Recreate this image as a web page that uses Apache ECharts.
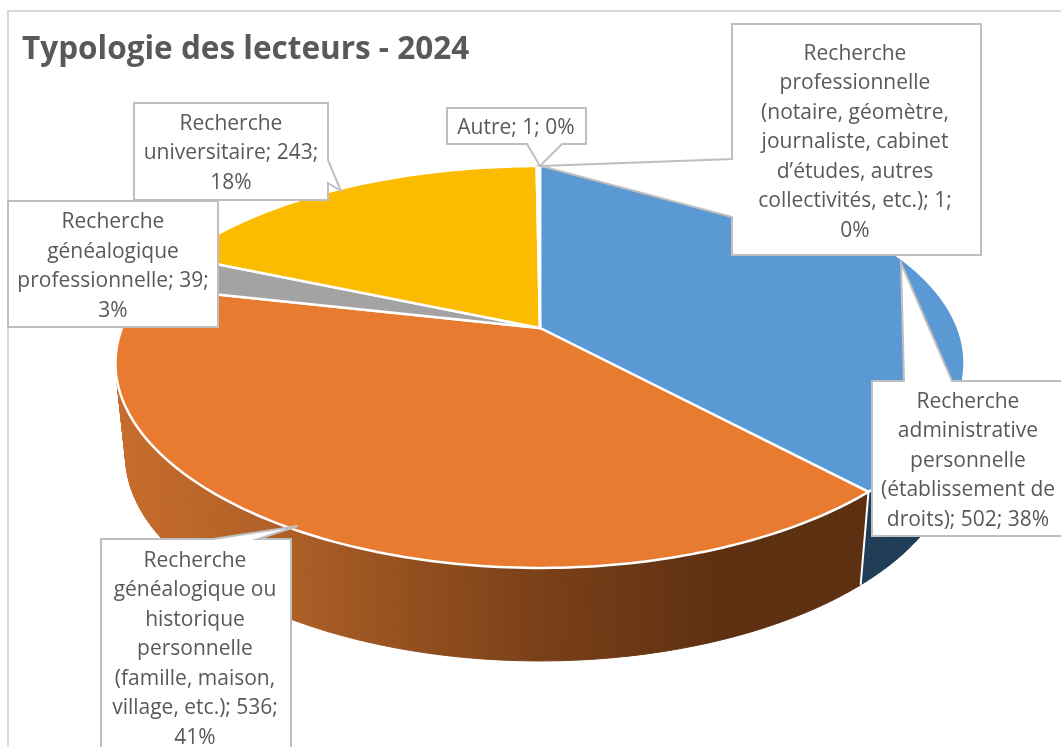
<!DOCTYPE html>
<html>
<head>
<meta charset="utf-8">
<title>Typologie des lecteurs - 2024</title>
<script src="https://cdn.jsdelivr.net/npm/echarts@6/dist/echarts.min.js"></script>
<style>
html, body { margin: 0; padding: 0; background: #fff; overflow: hidden; }
#main { width: 1061px; height: 747px; }
</style>
</head>
<body>
<div id="main"></div>
<script>
// donnees, dans le sens horaire depuis midi
var categories = [
	'Recherche administrative personnelle (établissement de droits)',
	'Recherche généalogique ou historique personnelle (famille, maison, village, etc.)',
	'Recherche généalogique professionnelle',
	'Recherche universitaire',
	'Autre',
	'Recherche professionnelle (notaire, géomètre, journaliste, cabinet d’études, autres collectivités, etc.)'
];
var values = [502, 536, 39, 243, 1, 1];
var labelTexts = [
	'Recherche\nadministrative\npersonnelle\n(établissement de\ndroits); 502; 38%',
	'Recherche\ngénéalogique ou\nhistorique\npersonnelle\n(famille, maison,\nvillage, etc.); 536;\n41%',
	'Recherche\ngénéalogique\nprofessionnelle; 39;\n3%',
	'Recherche\nuniversitaire; 243;\n18%',
	'Autre; 1; 0%',
	'Recherche\nprofessionnelle\n(notaire, géomètre,\njournaliste, cabinet\nd’études, autres\ncollectivités, etc.); 1;\n0%'
];

// couleurs
var topColors = ['#5b99d4', '#e97b30', '#a3a3a3', '#fbbc00', '#5b99d4', '#e97b30'];
var wallColors = ['#203d57', null, '#555555', '#7f6000', '#203d57', '#5e3012'];

// vue en perspective : apex, force de la perspective, rayons du dessus et du dessous
var view = {
	cx: 540, k: 0.194, kx: 0.175,
	top: { y: 328, a: 193.4, b: 418 },
	bottom: { y: 421, a: 193.4, b: 408 }
};

// cadres des etiquettes : [x, y, largeur, hauteur], pointe, base du pointeur, centre du texte
var callouts = [
	{ box: [872, 381, 192, 155], tip: [901, 263], side: 'top', base: [904, 952], text: [968, 461] },
	{ box: [101, 539, 190, 218], tip: [298, 526], side: 'top', base: [213, 258], text: [195, 649.5] },
	{ box: [8, 201, 210, 126], text: [113, 266.5] },
	{ box: [134, 103, 194, 97], tip: [341, 191], side: 'right', base: [160, 183], text: [231, 153.5] },
	{ box: [447, 108, 139, 36], tip: [540, 166], side: 'bottom', base: [527, 562], text: [516, 128] },
	{ box: [732, 24, 249, 231], tip: [541, 166], side: 'left', base: [159, 217], text: [855, 142.5] }
];

var total = 0;
for (var i = 0; i < values.length; i++) {
	total += values[i];
}

function startAngle(idx) {
	var s = 0;
	for (var i = 0; i < idx; i++) {
		s += values[i];
	}
	return s / total * Math.PI * 2;
}

function project(theta, face) {
	var c = Math.cos(theta);
	return [
		view.cx + face.b * Math.sin(theta) / (1 + view.kx * c),
		face.y - face.a * c / (1 + view.k * c)
	];
}

function rimPoints(a0, a1, face) {
	var pts = [];
	var n = Math.max(2, Math.ceil((a1 - a0) / (Math.PI / 180)));
	for (var i = 0; i <= n; i++) {
		pts.push(project(a0 + (a1 - a0) * i / n, face));
	}
	return pts;
}

var wallGradient = new echarts.graphic.LinearGradient(118, 0, 720, 0, [
	{ offset: 0, color: '#c76c2c' },
	{ offset: 0.28, color: '#ae5f27' },
	{ offset: 0.47, color: '#95511f' },
	{ offset: 0.7, color: '#7a4018' },
	{ offset: 1, color: '#5e3012' }
], true);

function renderWall(params, api) {
	var idx = params.dataIndex;
	var a0 = startAngle(idx);
	var a1 = a0 + api.value(0) / total * Math.PI * 2;
	var topRim = rimPoints(a0, a1, view.top);
	var bottomRim = rimPoints(a0, a1, view.bottom);
	var fill = wallColors[idx] || wallGradient;
	var children = [];
	// une facette par pas d'angle, sinon le bord gauche se replie et laisse un trou
	for (var i = 0; i < topRim.length - 1; i++) {
		children.push({
			type: 'polygon',
			shape: { points: [topRim[i], topRim[i + 1], bottomRim[i + 1], bottomRim[i]] },
			style: { fill: fill, stroke: fill, lineWidth: 1 }
		});
	}
	// separation blanche entre les deux parois
	if (idx == 0) {
		var last = topRim.length - 1;
		children.push({
			type: 'line',
			shape: {
				x1: topRim[last][0], y1: topRim[last][1],
				x2: bottomRim[last][0], y2: bottomRim[last][1]
			},
			style: { stroke: '#fff', lineWidth: 2 },
			z2: 10
		});
	}
	return { type: 'group', children: children };
}

function renderTop(params, api) {
	var idx = params.dataIndex;
	var a0 = startAngle(idx);
	var a1 = a0 + api.value(0) / total * Math.PI * 2;
	var pts = [[view.cx, view.top.y]].concat(rimPoints(a0, a1, view.top));
	return {
		type: 'polygon',
		shape: { points: pts },
		style: { fill: topColors[idx], stroke: '#fff', lineWidth: 2.5, lineJoin: 'round' }
	};
}

function calloutShape(c) {
	var x = c.box[0], y = c.box[1], w = c.box[2], h = c.box[3];
	var pts = [[x, y]];
	if (c.side == 'top') pts.push([c.base[0], y], c.tip, [c.base[1], y]);
	pts.push([x + w, y]);
	if (c.side == 'right') pts.push([x + w, c.base[0]], c.tip, [x + w, c.base[1]]);
	pts.push([x + w, y + h]);
	if (c.side == 'bottom') pts.push([c.base[1], y + h], c.tip, [c.base[0], y + h]);
	pts.push([x, y + h]);
	if (c.side == 'left') pts.push([x, c.base[1]], c.tip, [x, c.base[0]]);
	return pts;
}

function renderLabel(params, api) {
	var c = callouts[params.dataIndex];
	return {
		type: 'group',
		children: [{
			type: 'polygon',
			shape: { points: calloutShape(c) },
			style: { fill: '#fff', stroke: '#bfbfbf', lineWidth: 2 }
		}, {
			type: 'text',
			style: {
				text: labelTexts[params.dataIndex],
				x: c.text[0],
				y: c.text[1],
				align: 'center',
				verticalAlign: 'middle',
				fill: '#595959',
				font: '21px "Open Sans"',
				lineHeight: 29.5
			},
			z2: 5
		}]
	};
}

var seriesData = [];
for (var i = 0; i < values.length; i++) {
	seriesData.push({ name: categories[i], value: values[i] });
}

var myChart = echarts.init(document.getElementById('main'), null, { renderer: 'canvas' });

var option = {
	backgroundColor: '#fff',
	animation: false,
	title: {
		text: 'Typologie des lecteurs - 2024',
		left: 17,
		top: 29,
		textStyle: { color: '#595959', fontFamily: 'Open Sans', fontWeight: 'bold', fontSize: 31.5 }
	},
	graphic: [{
		type: 'rect',
		shape: { x: 8, y: 11, width: 1100, height: 800 },
		style: { fill: 'transparent', stroke: '#d9d9d9', lineWidth: 2 },
		silent: true
	}],
	series: [
		{ type: 'custom', coordinateSystem: 'none', renderItem: renderWall, data: seriesData, silent: true, z: 2 },
		{ type: 'custom', coordinateSystem: 'none', renderItem: renderTop, data: seriesData, silent: true, z: 3 },
		{ type: 'custom', coordinateSystem: 'none', renderItem: renderLabel, data: seriesData, silent: true, z: 4 }
	]
};

myChart.setOption(option);
</script>
</body>
</html>
